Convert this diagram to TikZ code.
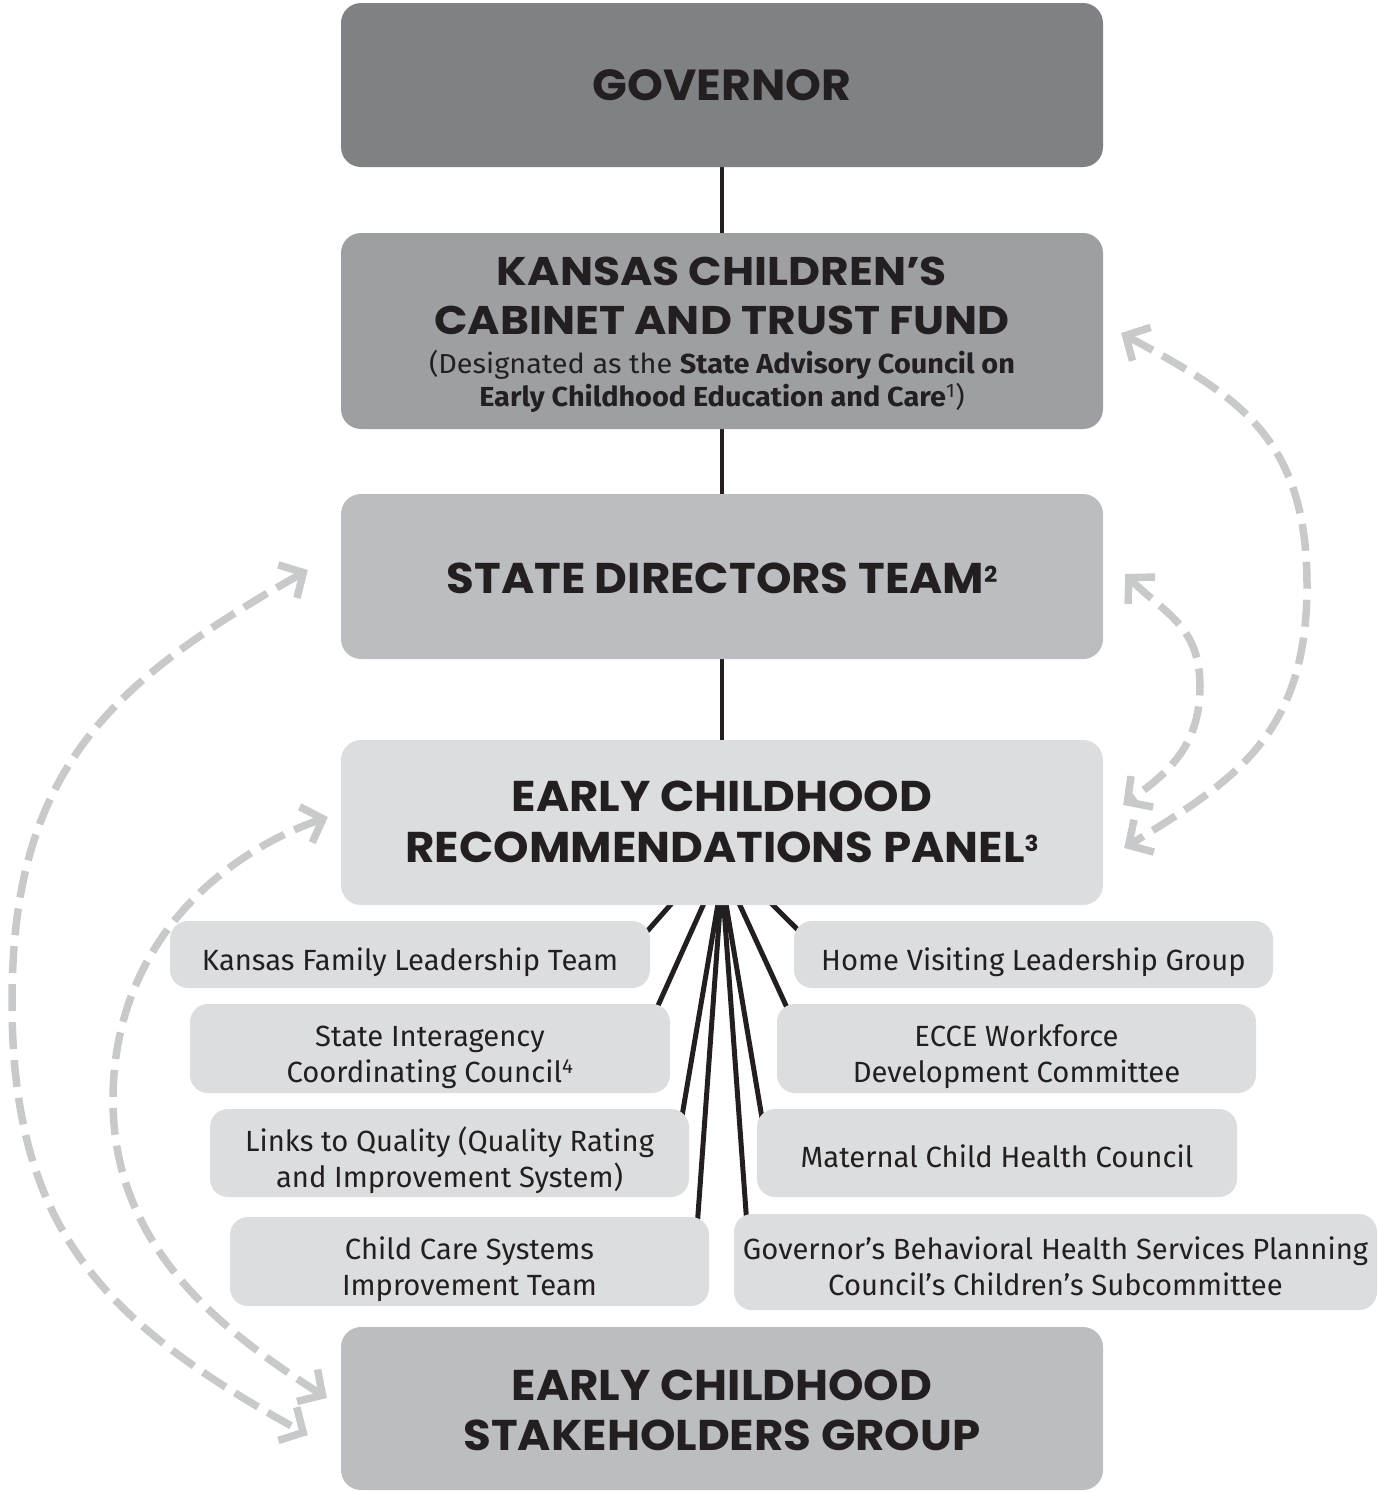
\documentclass[tikz,border=0pt]{standalone}
\usepackage{fontspec}
\setmainfont{Fira Sans}
\newfontfamily\headfont{Poppins}[FakeStretch=1.05]
\newfontfamily\kccfont{Poppins}[FakeStretch=1.1]
\newfontfamily\subfont{Fira Sans}[FakeStretch=1.05]
\newcommand\headsup[1]{\raisebox{11pt}{\fontsize{22}{22}\selectfont #1}}
\usetikzlibrary{arrows.meta,calc}
\definecolor{ink}{HTML}{231F20}
\definecolor{cgov}{HTML}{808185}
\definecolor{ckcc}{HTML}{9E9FA3}
\definecolor{cmid}{HTML}{BCBDC0}
\definecolor{clight}{HTML}{DCDDDF}
\definecolor{cdash}{HTML}{C8C9CB}
\pgfdeclarelayer{bg}
\pgfsetlayers{bg,main}
\tikzset{
  mainbox/.style={rectangle, rounded corners=20pt, minimum width=762pt, inner sep=0pt},
  subbox/.style={rectangle, rounded corners=18pt, fill=clight, inner sep=0pt},
  headtext/.style={anchor=base, text=ink, inner sep=0pt, font=\headfont\bfseries\fontsize{43}{50}\selectfont},
  kcchead/.style={headtext, font=\kccfont\bfseries\fontsize{40}{46}\selectfont},
  kccsub/.style={anchor=base, text=ink, inner sep=0pt, font=\subfont\fontsize{27.5}{32}\selectfont},
  subtext/.style={anchor=base, text=ink, inner sep=0pt, font=\fontsize{29.2}{36}\selectfont},
  link/.style={draw=ink, line width=4.5pt},
  fanline/.style={draw=ink, line width=5pt},
  dasharrow/.style={draw=cdash, line width=7.5pt, dash pattern=on 27pt off 11pt,
    {Straight Barb[length=18pt,width=38pt]}-{Straight Barb[length=18pt,width=38pt]}},
}
\begin{document}
\begin{tikzpicture}[x=1pt,y=-1pt]
\useasboundingbox (0,0) rectangle (1378,1492);
% main boxes
\node[mainbox, fill=cgov, minimum height=164pt] (gov) at (722,85) {};
\node[mainbox, fill=ckcc, minimum height=196pt] (kcc) at (722,331) {};
\node[mainbox, fill=cmid, minimum height=165pt] (sdt) at (722,576.5) {};
\node[mainbox, fill=clight, minimum height=165pt] (ecrp) at (722,822.5) {};
\node[mainbox, fill=cmid, minimum height=163pt] (ecsg) at (722,1408.5) {};
% headings
\node[headtext, font=\headfont\bfseries\fontsize{43.5}{50}\selectfont] (govT) at (722,100.7) {GOVERNOR};
\node[kcchead] (kccT1) at (722,285) {KANSAS CHILDREN’S};
\node[kcchead] (kccT2) at (722,334) {CABINET AND TRUST FUND};
\node[kccsub] (kccS1) at (722,373) {(Designated as the \textbf{State Advisory Council on}};
\node[kccsub] (kccS2) at (722,406.5) {\textbf{Early Childhood Education and Care}\textsuperscript{1})};
\node[headtext] (sdtT) at (722,593) {STATE DIRECTORS TEAM\headsup{2}};
\node[headtext] (ecrpT1) at (722,811.7) {EARLY CHILDHOOD};
\node[headtext] (ecrpT2) at (722,862.7) {RECOMMENDATIONS PANEL\headsup{3}};
\node[headtext] (ecsgT1) at (722,1400) {EARLY CHILDHOOD};
\node[headtext] (ecsgT2) at (722,1450) {STAKEHOLDERS GROUP};
% small boxes left
\node[subbox, minimum width=480pt, minimum height=67pt] (kflt) at (410,954.5) {};
\node[subbox, minimum width=480pt, minimum height=89pt] (sicc) at (430,1048.5) {};
\node[subbox, minimum width=479pt, minimum height=88pt] (ltq) at (449.5,1153) {};
\node[subbox, minimum width=479pt, minimum height=89pt] (ccsit) at (469.5,1261.5) {};
% small boxes right
\node[subbox, minimum width=479pt, minimum height=67pt] (hvlg) at (1033.5,954.5) {};
\node[subbox, minimum width=479pt, minimum height=89pt] (ecce) at (1016.5,1048.5) {};
\node[subbox, minimum width=480pt, minimum height=88pt] (mchc) at (997,1153) {};
\node[subbox, minimum width=643pt, minimum height=96pt] (gbhs) at (1055.5,1262) {};
% small box texts
\node[subtext] (kfltT) at (410,970) {Kansas Family Leadership Team};
\node[subtext] (siccT1) at (430,1046.5) {State Interagency};
\node[subtext] (siccT2) at (430,1082.5) {Coordinating Council\textsuperscript{4}};
\node[subtext] (ltqT1) at (449.5,1151) {Links to Quality (Quality Rating};
\node[subtext] (ltqT2) at (449.5,1187) {and Improvement System)};
\node[subtext] (ccsitT1) at (469.5,1259) {Child Care Systems};
\node[subtext] (ccsitT2) at (469.5,1295) {Improvement Team};
\node[subtext] (hvlgT) at (1033.5,970) {Home Visiting Leadership Group};
\node[subtext] (ecceT1) at (1016.5,1046.5) {ECCE Workforce};
\node[subtext] (ecceT2) at (1016.5,1082.5) {Development Committee};
\node[subtext] (mchcT) at (997,1167) {Maternal Child Health Council};
\node[subtext] (gbhsT1) at (1055.5,1259) {Governor’s Behavioral Health Services Planning};
\node[subtext] (gbhsT2) at (1055.5,1295) {Council’s Children’s Subcommittee};
% connectors
\begin{pgfonlayer}{bg}
\draw[link] (gov.south) -- (kcc.north);
\draw[link] (kcc.south) -- (sdt.north);
\draw[link] (sdt.south) -- (ecrp.north);
\coordinate (oL1) at ($(ecrp.south)+(0,-59)$);
\coordinate (oL2) at ($(ecrp.south)+(0,-42)$);
\coordinate (oR1) at ($(ecrp.south)+(0,-51)$);
\coordinate (oR2) at ($(ecrp.south)+(0,-39)$);
\coordinate (oC) at ($(ecrp.south)+(0,-25)$);
\draw[fanline] (oL1) -- ($(kflt.north east)+(-7,15)$);
\draw[fanline] (oL2) -- ($(sicc.north east)+(-15,8)$);
\draw[fanline] (oC) -- ($(ltq.north east)+(-8,12)$);
\draw[fanline] (oC) -- ($(ccsit.north east)+(-12,9)$);
\draw[fanline] (oR1) -- ($(hvlg.north west)+(9,14)$);
\draw[fanline] (oR2) -- ($(ecce.north west)+(13,10)$);
\draw[fanline] (oC) -- ($(mchc.north west)+(6,14)$);
\draw[fanline] (oC) -- ($(gbhs.north west)+(13,9)$);
\end{pgfonlayer}
% dashed feedback arrows
\coordinate (ra) at ($(kcc.east)+(18,2)$);
\coordinate (rm) at (1307,585);
\coordinate (rb) at ($(ecrp.east)+(21,25.5)$);
\draw[dasharrow] (ra) .. controls (1235,395) and (1307,435) .. (rm)
  .. controls (1307,735) and (1235,780) .. (rb);
\coordinate (ia) at ($(sdt.east)+(22,-2.5)$);
\coordinate (im) at (1200,686);
\coordinate (ib) at ($(ecrp.east)+(20,-17.5)$);
\draw[dasharrow] (ia) .. controls (1164,613) and (1200,626) .. (im)
  .. controls (1200,746) and (1168,773) .. (ib);
\coordinate (la) at ($(sdt.west)+(-33,-6.5)$);
\coordinate (lm) at (12,1002);
\coordinate (lb) at ($(ecsg.west)+(-33,26.5)$);
\draw[dasharrow] (la) .. controls (108,683) and (12,772) .. (lm)
  .. controls (12,1232) and (106.5,1324) .. (lb);
\coordinate (ja) at ($(ecrp.west)+(-13,-5.5)$);
\coordinate (jm) at (113,1100);
\coordinate (jb) at ($(ecsg.west)+(-14,-10.5)$);
\draw[dasharrow] (ja) .. controls (214.7,856.6) and (113,950) .. (jm)
  .. controls (113,1250) and (226,1333.3) .. (jb);
\end{tikzpicture}
\end{document}
